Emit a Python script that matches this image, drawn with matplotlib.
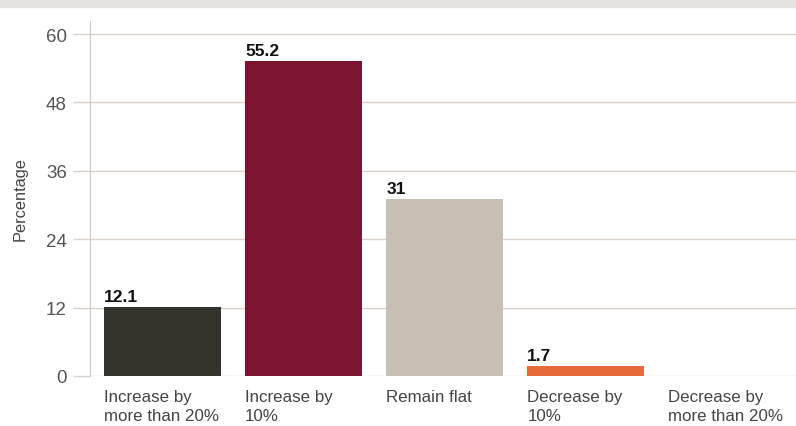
import numpy as np
import matplotlib; matplotlib.use("Agg")
import matplotlib.pyplot as plt
from matplotlib.patches import Rectangle

categories = ["Increase by\nmore than 20%", "Increase by\n10%", "Remain flat",
              "Decrease by\n10%", "Decrease by\nmore than 20%"]
values = [12.1, 55.2, 31, 1.7, 0]
value_labels = ["12.1", "55.2", "31", "1.7", ""]
colors = ["#33332b", "#7b1430", "#c8bfb4", "#e66a35", "#cccccc"]
yticks = [0, 12, 24, 36, 48, 60]

plt.rcParams["font.family"] = ["Liberation Sans", "DejaVu Sans"]
W, H = 796, 427
fig = plt.figure(figsize=(W/100, H/100), dpi=100)
fig.patches.append(Rectangle((0, 1-8/H), 1, 8/H, transform=fig.transFigure,
                             color="#e5e3df", zorder=0))
ax = fig.add_axes([90/W, 50/H, 1-90/W, (377-22)/H])

x = np.arange(len(values))
bw = 0.83
ax.bar(x, values, bw, color=colors, zorder=3)
for xi, v, lab in zip(x, values, value_labels):
    ax.text(xi-bw/2, v+0.6, lab, ha="left", va="bottom", fontsize=12.5,
            fontweight="bold", color="#111111")
    ax.text(xi-bw/2, -2.3, categories[xi], ha="left", va="top", fontsize=12.2,
            color="#444444", linespacing=1.3)

ax.set_xlim(-0.515, 4.49)
ax.set_ylim(0, 62.3)
ax.set_yticks(yticks)
ax.set_xticks([])
ax.grid(True, axis="y", color="#d8d2cb", lw=1, zorder=1)
ax.tick_params(axis="y", length=12.2, color="#d8d2cb", width=1, labelsize=13.5,
               labelcolor="#555555", pad=4.5)
for s in ["top", "right", "bottom"]:
    ax.spines[s].set_visible(False)
ax.spines["left"].set_color("#cfc8c0")
ax.set_ylabel("Percentage", fontsize=11.8, color="#444444", labelpad=13)

plt.savefig("out.png", dpi=100)
plt.close()
